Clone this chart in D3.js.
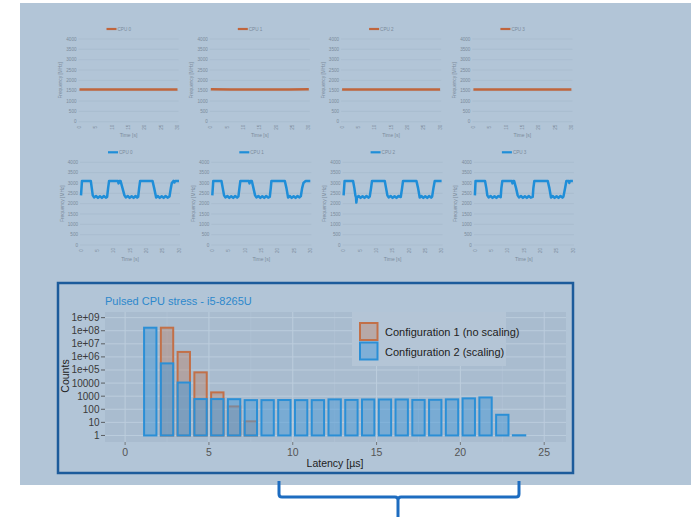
<!DOCTYPE html>
<html>
<head>
<meta charset="utf-8">
<script src="https://cdn.jsdelivr.net/npm/d3@7"></script>
<style>
  body { margin: 0; background: #fff; }
  svg { display: block; font-family: "Liberation Sans", Arial, sans-serif; }
</style>
</head>
<body>
<svg id="chart" width="692" height="517"></svg>
<script>
// ---- data ----
// histogram: bins of 1 µs starting at these latencies
var binStarts = [1,2,3,4,5,6,7,8,9,10,11,12,13,14,15,16,17,18,19,20,21,22,23];
var countsNoScaling = [0, 1.7e8, 2.4e6, 6.6e4, 1950, 165, 12, 0,0,0,0,0,0,0,0,0,0,0,0,0,0,0,0];
var countsScaling = [1.7e8, 3.2e5, 1.1e4, 600, 600, 590, 500, 500, 510, 500, 500, 570, 520, 560, 560, 560, 520, 530, 570, 680, 800, 38, 1];
var countTicks = [1, 10, 100, 1000, 1e4, 1e5, 1e6, 1e7, 1e8, 1e9];
var countTickLabels = ["1", "10", "100", "1000", "10000", "1e+05", "1e+06", "1e+07", "1e+08", "1e+09"];
var latencyTicks = [0, 5, 10, 15, 20, 25];
var seriesNames = ["Configuration 1 (no scaling)", "Configuration 2 (scaling)"];

// small frequency charts
var cpuNames = ["CPU 0", "CPU 1", "CPU 2", "CPU 3"];
var freqTicks = [0, 500, 1000, 1500, 2000, 2500, 3000, 3500, 4000];
var timeTicks = [0, 5, 10, 15, 20, 25, 30];

// config 1: flat at ~1560 MHz
var idleCpu0 = [[0,1560],[6,1555],[12,1560],[18,1560],[24,1555],[30,1560]];
var idleCpu1 = [[0,1565],[6,1560],[12,1560],[18,1555],[24,1560],[30,1565]];
var idleCpu2 = [[0,1560],[6,1560],[12,1555],[18,1560],[24,1560],[30,1560]];
var idleCpu3 = [[0,1560],[6,1555],[12,1560],[18,1560],[24,1560],[30,1555]];

// config 2: pulsed load
var loadCpu0 = [[0,2400],[0.3,3100],[3.0,3100],[3.3,2750],[3.6,2400],[4.0,2300],[4.6,2370],[5.2,2280],[5.8,2360],[6.4,2280],[7.0,2370],[7.6,2290],[8.0,2330],
  [8.3,2750],[8.6,3100],[11.3,3100],[11.5,2980],[11.7,3100],[12.1,3100],[12.7,2750],[13.3,2400],[13.7,2300],[14.3,2370],[14.9,2280],[15.5,2360],[16.1,2280],[16.7,2370],[17.2,2290],[17.5,2330],
  [17.8,2750],[18.1,3100],[21.9,3100],[22.4,2750],[23.0,2300],[23.5,2370],[24.1,2280],[24.7,2360],[25.3,2280],[25.9,2370],[26.5,2290],[27.1,2350],
  [27.5,2750],[27.8,3000],[28.3,3100],[28.6,3020],[28.8,3100],[30,3100]];
var loadCpu1 = [[0,2400],[0.3,3100],[2.8,3100],[3.2,2750],[3.6,2400],[4.0,2300],[4.6,2370],[5.2,2280],[5.8,2360],[6.4,2280],[7.0,2370],[7.6,2290],[8.0,2350],
  [8.3,2750],[8.6,3100],[11.2,3100],[11.4,2980],[11.6,3100],[12.1,3100],[12.6,2750],[13.1,2400],[13.5,2300],[14.1,2370],[14.7,2280],[15.3,2360],[15.9,2280],[16.5,2370],[17.1,2290],[17.6,2330],
  [17.9,2750],[18.1,3100],[22.2,3100],[22.7,2750],[23.2,2300],[23.7,2370],[24.3,2280],[24.9,2360],[25.5,2280],[26.1,2370],[26.7,2300],[27.1,2360],
  [27.5,2750],[27.9,3000],[28.6,3100],[30,3100]];
var loadCpu2 = [[0,2400],[0.3,3100],[2.9,3100],[3.3,2750],[3.6,2400],[3.8,2300],[3.9,2050],[4.1,2300],[4.6,2370],[5.2,2280],[5.8,2360],[6.4,2280],[7.0,2370],[7.6,2290],[8.0,2340],
  [8.4,2750],[8.7,3100],[12.6,3100],[13.0,2750],[13.4,2400],[13.8,2300],[14.4,2370],[15.0,2280],[15.6,2360],[16.2,2280],[16.8,2370],[17.5,2320],
  [17.9,2750],[18.2,3100],[22.3,3100],[22.8,2750],[23.3,2300],[23.8,2370],[24.4,2280],[25.0,2360],[25.6,2280],[26.2,2370],[26.8,2290],[27.1,2340],
  [27.5,2750],[27.9,3100],[30,3100]];
var loadCpu3 = [[0,2400],[0.2,3100],[3.1,3100],[3.5,2750],[3.8,2400],[4.2,2300],[4.8,2370],[5.4,2280],[6.0,2360],[6.6,2280],[7.2,2370],[7.9,2310],
  [8.1,2750],[8.4,3100],[11.3,3100],[11.5,2980],[11.7,3100],[12.0,3100],[12.6,2750],[13.1,2400],[13.5,2300],[14.1,2370],[14.7,2280],[15.3,2360],[15.9,2280],[16.5,2370],[17.1,2290],[17.7,2330],
  [17.9,2750],[18.2,3100],[22.3,3100],[22.8,2750],[23.3,2300],[23.8,2370],[24.4,2280],[25.0,2360],[25.6,2280],[26.2,2370],[26.8,2290],[27.1,2340],
  [27.6,2750],[28.0,3100],[28.7,3100],[28.9,3000],[29.1,3100],[30,3100]];

var idleSeries = [idleCpu0, idleCpu1, idleCpu2, idleCpu3];
var loadSeries = [loadCpu0, loadCpu1, loadCpu2, loadCpu3];

// ---- colours ----
var bgPanel = "#b2c5d7",
    orange = "#c0653c",
    blue = "#1f8ed8",
    smallText = "#7b8b9b",
    smallGrid = "#a5b8cb";

var svg = d3.select("#chart");

// light blue slide panel
svg.append("rect").attr("x", 20).attr("y", 3).attr("width", 671).attr("height", 482).attr("fill", bgPanel);

// ---- the eight small frequency charts ----
function smallChart(series, name, colour, x0, zeroY) {
  var w = 98, h = 82.7;
  var x = d3.scaleLinear().domain([0, 30]).range([x0, x0 + w]);
  var y = d3.scaleLinear().domain([0, 4000]).range([zeroY, zeroY - h]);
  var g = svg.append("g");

  g.selectAll(".grid").data(freqTicks).enter().append("line")
    .attr("x1", x0 - 1).attr("x2", x0 + w + 1)
    .attr("y1", d => y(d)).attr("y2", d => y(d))
    .attr("stroke", smallGrid).attr("stroke-width", 0.6);

  g.selectAll(".ylab").data(freqTicks).enter().append("text")
    .attr("x", x0 - 3).attr("y", d => y(d) + 1.6)
    .attr("text-anchor", "end").attr("font-size", 4.6).attr("fill", smallText)
    .text(d => d);

  // rotated time tick labels
  g.selectAll(".xlab").data(timeTicks).enter().append("text")
    .attr("transform", d => "translate(" + (x(d) + 1.6) + "," + (zeroY + 5.5) + ") rotate(-90)")
    .attr("text-anchor", "middle").attr("font-size", 4.6).attr("fill", smallText)
    .text(d => d);

  g.append("text").attr("x", x0 + w / 2).attr("y", zeroY + 15.5)
    .attr("text-anchor", "middle").attr("font-size", 5).attr("fill", smallText).text("Time [s]");

  g.append("text")
    .attr("transform", "translate(" + (x0 - 17.5) + "," + (zeroY - h / 2) + ") rotate(-90)")
    .attr("text-anchor", "middle").attr("font-size", 4.8).attr("fill", smallText).text("Frequency [MHz]");

  // legend on top
  var cx = x0 + w / 2;
  g.append("line").attr("x1", cx - 22).attr("x2", cx - 12)
    .attr("y1", zeroY - h - 10).attr("y2", zeroY - h - 10)
    .attr("stroke", colour).attr("stroke-width", 2.2);
  g.append("text").attr("x", cx - 11).attr("y", zeroY - h - 8.4)
    .attr("font-size", 4.6).attr("fill", smallText).text(name);

  var line = d3.line().x(d => x(d[0])).y(d => y(d[1]));
  g.append("path").datum(series)
    .attr("d", line).attr("fill", "none")
    .attr("stroke", colour).attr("stroke-width", 2.5).attr("stroke-linejoin", "round");
}

cpuNames.forEach(function (name, i) {
  smallChart(idleSeries[i], name, orange, 79.5 + i * 131.3, 121.7);
  smallChart(loadSeries[i], name, blue, 81 + i * 131.3, 245);
});

// ---- latency histogram ----
var plot = {left: 105, right: 566, top: 312, bottom: 442};

var x = d3.scaleLinear().domain([-1.2, 26.3]).range([plot.left, plot.right]);
var y = d3.scaleLog().domain([Math.pow(10, -0.5), Math.pow(10, 9.43)]).range([plot.bottom, plot.top]);

// box around the figure
svg.append("rect").attr("x", 58).attr("y", 283).attr("width", 515).attr("height", 190)
  .attr("fill", "none").attr("stroke", "#1c5b9b").attr("stroke-width", 2.5);

svg.append("text").attr("x", 105).attr("y", 305)
  .attr("font-size", 11).attr("fill", "#2d88cc").text("Pulsed CPU stress - i5-8265U");

svg.append("rect").attr("x", plot.left).attr("y", plot.top)
  .attr("width", plot.right - plot.left).attr("height", plot.bottom - plot.top)
  .attr("fill", "#a9bccf");

// grid
var minorX = [2.5, 7.5, 12.5, 17.5, 22.5];
svg.selectAll(".minorx").data(minorX).enter().append("line")
  .attr("x1", d => x(d)).attr("x2", d => x(d)).attr("y1", plot.top).attr("y2", plot.bottom)
  .attr("stroke", "#b3c5d7").attr("stroke-width", 0.6);
svg.selectAll(".majorx").data(latencyTicks).enter().append("line")
  .attr("x1", d => x(d)).attr("x2", d => x(d)).attr("y1", plot.top).attr("y2", plot.bottom)
  .attr("stroke", "#bccddd").attr("stroke-width", 1);
svg.selectAll(".majory").data(countTicks).enter().append("line")
  .attr("x1", plot.left).attr("x2", plot.right).attr("y1", d => y(d)).attr("y2", d => y(d))
  .attr("stroke", "#bccddd").attr("stroke-width", 1);

// bars: config 1 underneath, config 2 on top
function bars(counts, fill, opacity, stroke) {
  var rows = binStarts.map((b, i) => ({start: b, count: counts[i]})).filter(d => d.count > 0);
  svg.append("g").selectAll("rect").data(rows).enter().append("rect")
    .attr("x", d => x(d.start) + 2.2)
    .attr("width", d => x(d.start + 1) - x(d.start) - 4.4)
    .attr("y", d => Math.min(y(d.count), y(1) - 0.2))
    .attr("height", d => Math.max(y(1) - y(d.count), 0.2))
    .attr("fill", fill).attr("fill-opacity", opacity)
    .attr("stroke", stroke).attr("stroke-width", 2);
}
bars(countsNoScaling, "#c06a40", 0.3, "#c27048");
bars(countsScaling, "#4a9ad8", 0.5, "#2b8fd6");

// axes
svg.selectAll(".ytick").data(countTicks).enter().append("line")
  .attr("x1", plot.left - 4).attr("x2", plot.left).attr("y1", d => y(d)).attr("y2", d => y(d))
  .attr("stroke", "#444").attr("stroke-width", 0.8);
svg.selectAll(".ylabel").data(countTicks).enter().append("text")
  .attr("x", plot.left - 5.5).attr("y", d => y(d) + 3.5)
  .attr("text-anchor", "end").attr("font-size", 10).attr("fill", "#3a3a3a")
  .text((d, i) => countTickLabels[i]);
svg.selectAll(".xtick").data(latencyTicks).enter().append("line")
  .attr("x1", d => x(d)).attr("x2", d => x(d)).attr("y1", plot.bottom).attr("y2", plot.bottom + 3)
  .attr("stroke", "#666").attr("stroke-width", 0.8);
svg.selectAll(".xlabel").data(latencyTicks).enter().append("text")
  .attr("x", d => x(d)).attr("y", 456)
  .attr("text-anchor", "middle").attr("font-size", 10.5).attr("fill", "#555")
  .text(d => d);

svg.append("text").attr("x", 335).attr("y", 467)
  .attr("text-anchor", "middle").attr("font-size", 10.5).attr("fill", "#222").text("Latency [µs]");
svg.append("text").attr("transform", "translate(69,376) rotate(-90)")
  .attr("text-anchor", "middle").attr("font-size", 10.5).attr("fill", "#222").text("Counts");

// legend
var legend = svg.append("g");
legend.append("rect").attr("x", 352).attr("y", 312).attr("width", 154).attr("height", 54).attr("fill", "#b4c5d6");
var keyStyles = [{fill: "#c06a40", op: 0.3, stroke: "#c27048"}, {fill: "#4a9ad8", op: 0.5, stroke: "#2b8fd6"}];
seriesNames.forEach(function (name, i) {
  legend.append("rect").attr("x", 360).attr("y", 323 + i * 19.5).attr("width", 17.5).attr("height", 17)
    .attr("fill", keyStyles[i].fill).attr("fill-opacity", keyStyles[i].op)
    .attr("stroke", keyStyles[i].stroke).attr("stroke-width", 2);
  legend.append("text").attr("x", 385).attr("y", 336 + i * 19.5)
    .attr("font-size", 11).attr("fill", "#222").text(name);
});

// bracket under the histogram
var bracket = d3.path();
bracket.moveTo(279, 481); bracket.lineTo(279, 494); bracket.quadraticCurveTo(279, 497, 282, 497);
bracket.lineTo(395, 497); bracket.quadraticCurveTo(398, 497, 398, 500); bracket.lineTo(398, 517);
bracket.moveTo(398, 500); bracket.quadraticCurveTo(398, 497, 401, 497);
bracket.lineTo(516, 497); bracket.quadraticCurveTo(519, 497, 519, 494); bracket.lineTo(519, 481);
svg.append("path").attr("d", bracket.toString()).attr("fill", "none")
  .attr("stroke", "#1d6cc0").attr("stroke-width", 3);
</script>
</body>
</html>
